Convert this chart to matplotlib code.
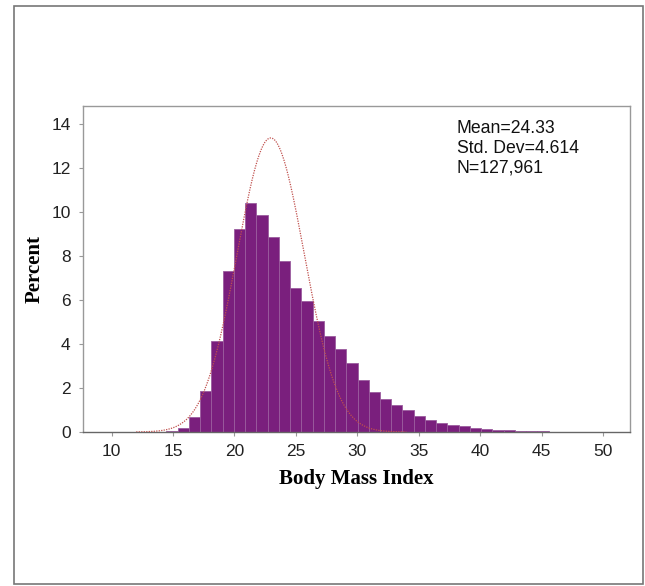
import numpy as np
import matplotlib
matplotlib.use('Agg')
from matplotlib import pyplot as plt
from matplotlib.patches import Rectangle

# histogram bins (Body Mass Index), width
bin_start = 14.465
bin_width = 0.915
percent = [0.04, 0.18, 0.68, 1.86, 4.15, 7.30, 9.21, 10.38, 9.86, 8.87, 7.75,
           6.53, 5.95, 5.03, 4.34, 3.75, 3.13, 2.37, 1.80, 1.50, 1.24, 1.01,
           0.71, 0.53, 0.42, 0.33, 0.26, 0.20, 0.15, 0.11, 0.08, 0.06, 0.05, 0.04]

# fitted normal curve as drawn (peak position, spread, peak height in %)
curve_center = 22.95
curve_sd = 2.73
curve_peak = 13.35

stats = ['Mean=24.33', 'Std. Dev=4.614', 'N=127,961']
xticks = [10, 15, 20, 25, 30, 35, 40, 45, 50]
yticks = [0, 2, 4, 6, 8, 10, 12, 14]

fig = plt.figure(figsize=(6.45, 5.86), dpi=100)
ax = fig.add_axes([0.1287, 0.2628, 0.848, 0.5563])

lefts = bin_start + bin_width * np.arange(len(percent))
ax.bar(lefts, percent, width=bin_width, align='edge', color='#7a1f7d',
       edgecolor='#9b5c9e', linewidth=0.6, zorder=2)

xs = np.linspace(12, 34, 400)
ys = curve_peak * np.exp(-0.5 * ((xs - curve_center) / curve_sd) ** 2)
ax.plot(xs, ys, color='#c0504d', linestyle=(0, (1, 1)), linewidth=0.9, zorder=3)

ax.set_xlim(7.67, 52.2)
ax.set_ylim(0, 14.8)
ax.set_xticks(xticks)
ax.set_yticks(yticks)
for s in ax.spines.values():
    s.set_color('#999999')
    s.set_linewidth(1.0)
ax.spines['bottom'].set_color('#666666')
ax.tick_params(direction='out', length=3, color='#999999', labelsize=12.5,
               labelcolor='#222222', pad=6)
for lab in ax.get_xticklabels() + ax.get_yticklabels():
    lab.set_fontfamily('Liberation Sans')

ax.set_xlabel('Body Mass Index', fontfamily='Liberation Serif',
              fontweight='bold', fontsize=15, labelpad=7)
ax.set_ylabel('Percent', fontfamily='Liberation Serif',
              fontweight='bold', fontsize=15, labelpad=5)

ax.text(0.683, 0.957, '\n'.join(stats), transform=ax.transAxes,
        fontfamily='Liberation Sans', fontsize=12.7, va='top', ha='left',
        linespacing=1.2, color='#111111')

# outer frame around the picture
fig.patches.append(Rectangle((14 / 645, 2 / 586), 629 / 645, 578 / 586,
                             transform=fig.transFigure, fill=False,
                             edgecolor='#777777', linewidth=1.2))

fig.savefig('out.png', dpi=100)
